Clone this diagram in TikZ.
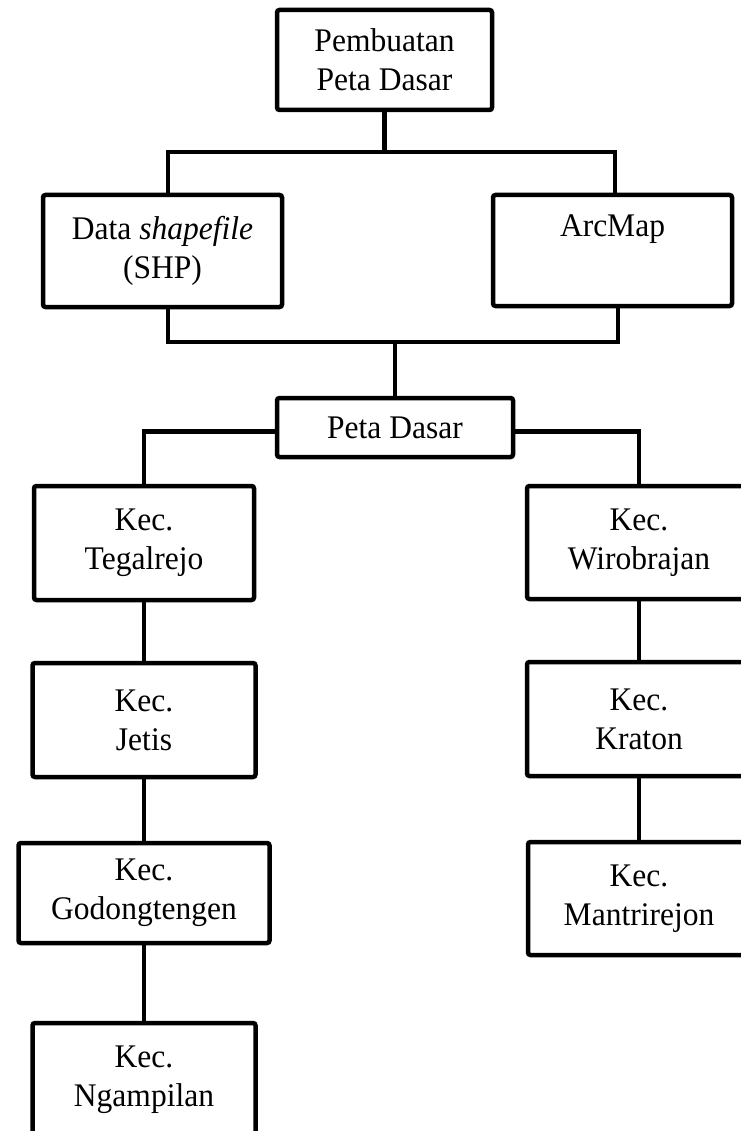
\documentclass[tikz,border=0pt]{standalone}
\usepackage{fontspec}
\setmainfont{Liberation Serif}[FakeStretch=0.955]

\begin{document}
\begin{tikzpicture}[x=1pt, y=-1pt,
  box/.style={draw, line width=4.5pt, rounded corners=2.5pt, inner sep=0pt, align=center, font=\fontsize{33}{39}\selectfont},
  link/.style={line width=4.5pt}
]
\useasboundingbox (0,0) rectangle (740,1131);
\node[box, minimum width=215pt, minimum height=100pt] (top) at (384.5,60) {Pembuatan\\Peta Dasar};
\node[box, minimum width=239pt, minimum height=112pt] (data) at (162.5,251) {Data \textit{shapefile}\\(SHP)};
\node[box, minimum width=239pt, minimum height=111pt] (arc) at (612.5,250.5) {ArcMap\\\strut};
\node[box, minimum width=236pt, minimum height=59pt] (peta) at (395,427.5) {Peta Dasar};
\node[box, minimum width=220pt, minimum height=114pt] (tegal) at (144,543) {Kec.\\Tegalrejo};
\node[box, minimum width=223pt, minimum height=114pt] (jetis) at (144,720) {Kec.\\Jetis};
\node[box, minimum width=251pt, minimum height=100pt] (godong) at (144,893) {Kec.\\Godongtengen};
\node[box, minimum width=223pt, minimum height=114pt] (ngamp) at (144,1080) {Kec.\\Ngampilan};
\node[box, minimum width=224pt, minimum height=113pt] (wiro) at (639,542.5) {Kec.\\Wirobrajan};
\node[box, minimum width=224pt, minimum height=114pt] (kraton) at (639,719) {Kec.\\Kraton};
\node[box, minimum width=222pt, minimum height=113pt] (mantri) at (639,898.5) {Kec.\\Mantrirejon};

\draw[link] (top.south) -- ++(0,40) coordinate (j1);
\draw[link] ([xshift=5.5pt]data.north) |- (j1) -| ([xshift=2.5pt]arc.north);
\draw[link] (peta.north) -- ++(0,-54) coordinate (j2);
\draw[link] ([xshift=5.5pt]data.south) |- (j2) -| ([xshift=5.5pt]arc.south);
\draw[link] ([yshift=-4pt]peta.west) -| (tegal.north);
\draw[link] ([yshift=-4pt]peta.east) -| (wiro.north);
\draw[link] (tegal) -- (jetis);
\draw[link] (jetis) -- (godong);
\draw[link] (godong) -- (ngamp);
\draw[link] (wiro) -- (kraton);
\draw[link] (kraton) -- (mantri);
\end{tikzpicture}
\end{document}
